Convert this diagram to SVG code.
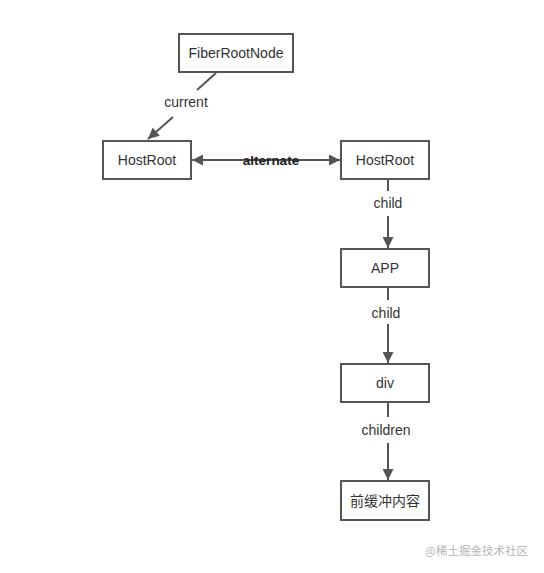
<svg xmlns="http://www.w3.org/2000/svg" width="544" height="573" viewBox="0 0 544 573">
<style>
.box{fill:#fff;stroke:#555;stroke-width:2}
.t{font-family:"Helvetica Neue","Liberation Sans","Noto Sans CJK SC",sans-serif;font-size:14px;fill:#333;text-anchor:middle;dominant-baseline:central}
.ln{stroke:#555;stroke-width:2;fill:none}
.wm{font-family:"Noto Sans CJK SC",sans-serif;font-size:11.5px;fill:#b5b5b5}
</style>
<defs>
<marker id="ah" viewBox="0 0 10 10" refX="10" refY="5" markerWidth="6" markerHeight="5.5" orient="auto-start-reverse" markerUnits="strokeWidth">
<path d="M0,0L10,5L0,10z" fill="#555"/>
</marker>
</defs>
<rect width="544" height="573" fill="#fff"/>
<g id="connectors">
<line class="ln" x1="216" y1="73" x2="197" y2="90"/>
<line class="ln" x1="173" y1="117" x2="148" y2="139" marker-end="url(#ah)"/>
<line class="ln" x1="192" y1="160" x2="340" y2="160" marker-start="url(#ah)" marker-end="url(#ah)"/>
<line class="ln" x1="388" y1="180" x2="388" y2="191"/>
<line class="ln" x1="388" y1="216" x2="388" y2="248" marker-end="url(#ah)"/>
<line class="ln" x1="388" y1="288" x2="388" y2="300"/>
<line class="ln" x1="388" y1="324" x2="388" y2="363" marker-end="url(#ah)"/>
<line class="ln" x1="388" y1="403" x2="388" y2="417"/>
<line class="ln" x1="388" y1="443" x2="388" y2="480" marker-end="url(#ah)"/>
<text class="t" x="186" y="102">current</text>
<text class="t" x="271" y="160" style="font-weight:bold;fill:#222;font-size:13.5px">alternate</text>
<text class="t" x="388" y="203">child</text>
<text class="t" x="386" y="313">child</text>
<text class="t" x="386" y="430">children</text>
</g>
<g id="fiberRootNode"><rect class="box" x="179" y="34" width="114" height="38"/><text class="t" x="236" y="53">FiberRootNode</text></g>
<g id="hostRootCurrent"><rect class="box" x="103" y="141" width="88" height="38"/><text class="t" x="147" y="160">HostRoot</text></g>
<g id="hostRootWip"><rect class="box" x="341" y="141" width="88" height="38"/><text class="t" x="385" y="160">HostRoot</text></g>
<g id="app"><rect class="box" x="341" y="249" width="88" height="38"/><text class="t" x="385" y="268">APP</text></g>
<g id="div"><rect class="box" x="341" y="364" width="88" height="38"/><text class="t" x="385" y="383">div</text></g>
<g id="buffer"><rect class="box" x="341" y="481" width="88" height="39"/><text class="t" x="385" y="500.5">前缓冲内容</text></g>
<text class="wm" x="425" y="555">@稀土掘金技术社区</text>
</svg>
